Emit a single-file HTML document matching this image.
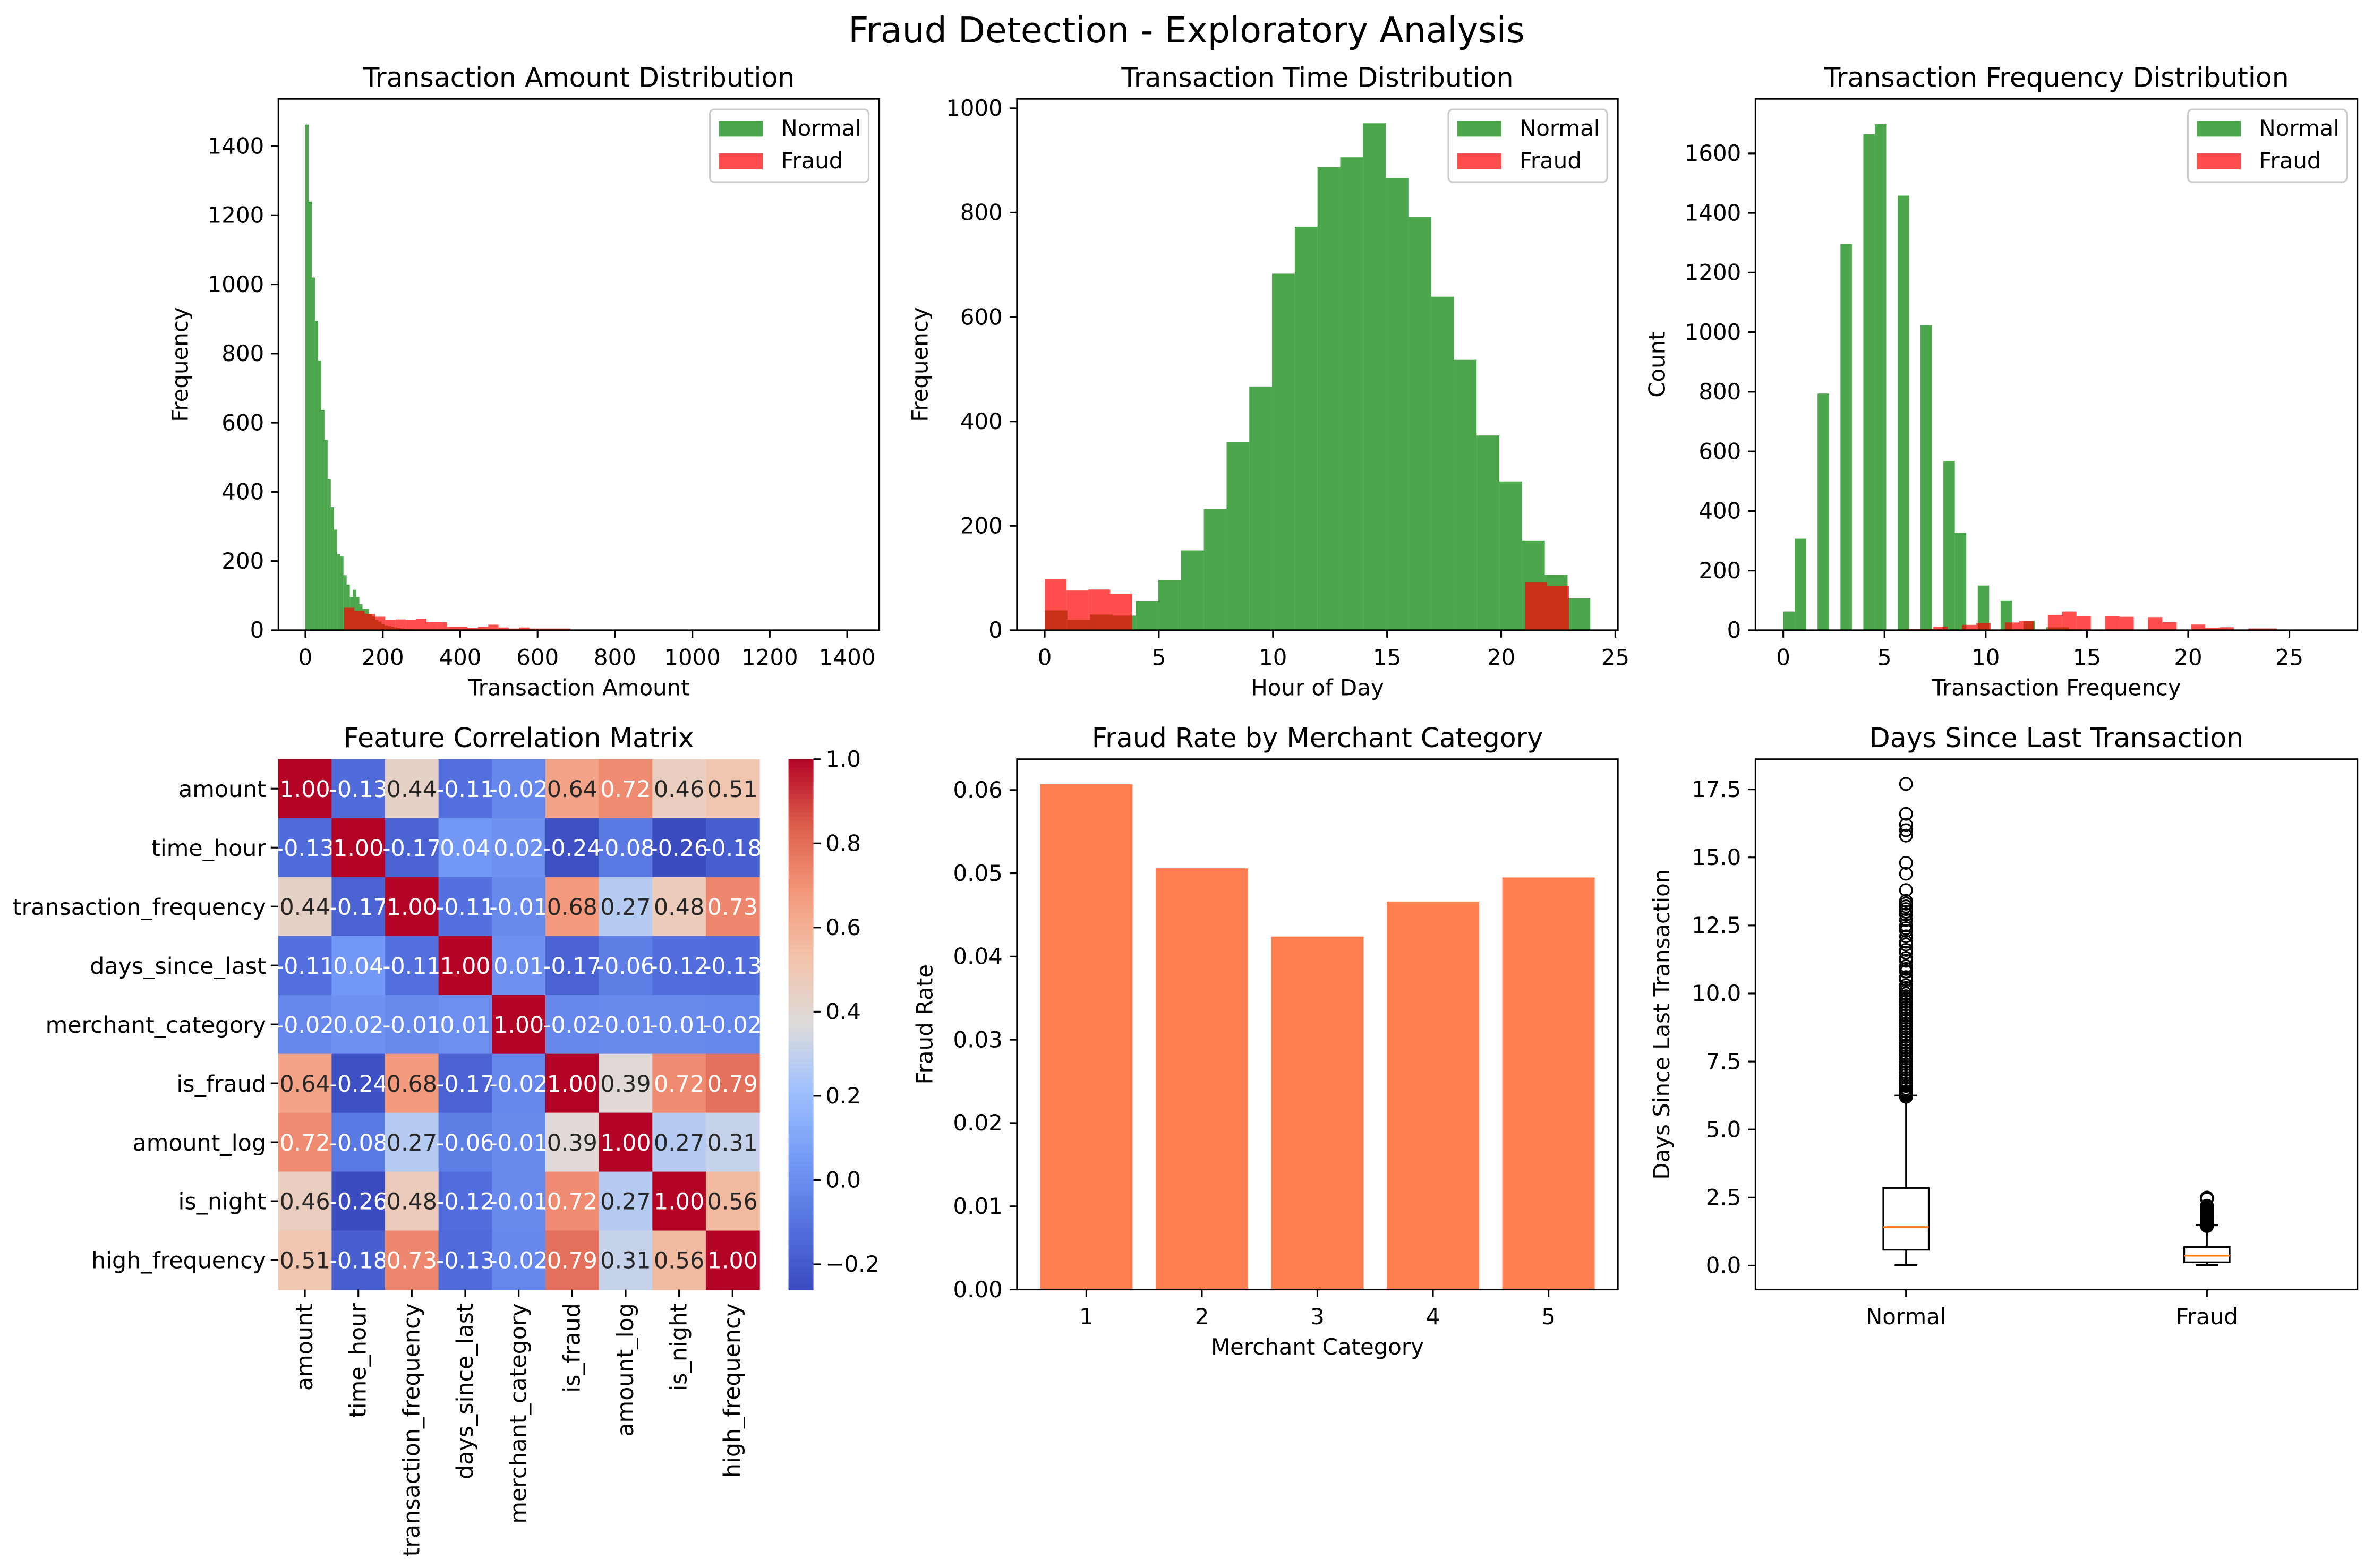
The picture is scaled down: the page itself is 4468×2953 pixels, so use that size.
<!DOCTYPE html>
<html><head><meta charset="utf-8"><title>Fraud Detection - Exploratory Analysis</title>
<style>html,body{margin:0;padding:0;background:#fff}svg{display:block}text{font-family:"DejaVu Sans","Liberation Sans",sans-serif;fill:#000}</style>
</head><body>
<svg id="fig" xmlns="http://www.w3.org/2000/svg" width="4468" height="2953" viewBox="0 0 1568 1036" preserveAspectRatio="none">
<rect width="1568" height="1036" fill="#fff"/>
<text x="784" y="28" font-size="23.3" text-anchor="middle">Fraud Detection - Exploratory Analysis</text>
</svg>
<script>
// ---- Data ----
const amountNormalCounts=[1462,1239,1020,895,780,637,550,437,356,291,220,213,159,132,96,117,96,75,62,62,47,40,30,25,18,14,12,10,8,6,5,4,3,3,2,2,2,1,1,1];
const amountFraudCounts=[65,56,47,39,29,31,29,33,23,23,10,10,6,10,16,8,5,8,5,5,5,5,2,2,1,1,0,0,1,1];
const hourNormalCounts=[38,20,30,28,56,96,153,232,361,467,683,773,887,906,971,866,792,639,518,373,285,172,106,61];
const hourFraudCounts=[98,76,78,70,0,0,0,0,0,0,0,0,0,0,0,0,0,0,0,0,0,0,92,85];
const freqNormalValues=[0,1,2,3,4,5,6,7,8,9,10,11,12,13,14];
const freqNormalCounts=[63,307,794,1296,1664,1698,1458,1023,568,327,150,100,30,10,10];
const freqFraudCounts=[4,4,12,0,18,24,0,26,31,0,51,63,48,0,48,45,0,44,27,0,19,8,10,0,6,6];
const corrLabels=["amount","time_hour","transaction_frequency","days_since_last","merchant_category","is_fraud","amount_log","is_night","high_frequency"];
const corrRow0=[1.00,-0.13,0.44,-0.11,-0.02,0.64,0.72,0.46,0.51];
const corrRow1=[-0.13,1.00,-0.17,0.04,0.02,-0.24,-0.08,-0.26,-0.18];
const corrRow2=[0.44,-0.17,1.00,-0.11,-0.01,0.68,0.27,0.48,0.73];
const corrRow3=[-0.11,0.04,-0.11,1.00,0.01,-0.17,-0.06,-0.12,-0.13];
const corrRow4=[-0.02,0.02,-0.01,0.01,1.00,-0.02,-0.01,-0.01,-0.02];
const corrRow5=[0.64,-0.24,0.68,-0.17,-0.02,1.00,0.39,0.72,0.79];
const corrRow6=[0.72,-0.08,0.27,-0.06,-0.01,0.39,1.00,0.27,0.31];
const corrRow7=[0.46,-0.26,0.48,-0.12,-0.01,0.72,0.27,1.00,0.56];
const corrRow8=[0.51,-0.18,0.73,-0.13,-0.02,0.79,0.31,0.56,1.00];
const merchantCategories=[1,2,3,4,5];
const fraudRates=[0.0607,0.0506,0.0424,0.0466,0.0495];
const boxNormalStats=[0.02,0.58,1.42,2.85,6.25]; // low whisker, Q1, median, Q3, high whisker
const boxFraudStats=[0.02,0.12,0.36,0.68,1.48];
const boxNormalOutliers=[6.2,6.25,6.3,6.35,6.4,6.5,6.6,6.7,6.8,6.9,7.0,7.1,7.2,7.3,7.4,7.5,7.6,7.7,7.8,7.9,8.0,8.1,8.2,8.3,8.4,8.5,8.6,8.7,8.8,8.9,9.0,9.1,9.2,9.3,9.4,9.5,9.6,9.7,9.8,9.9,10.0,10.1,10.2,10.3,10.5,10.6,10.8,10.9,11.0,11.2,11.3,11.5,11.6,11.8,11.9,12.1,12.3,12.4,12.5,12.7,12.9,13.0,13.1,13.2,13.3,13.4,13.8,14.4,14.8,15.8,16.0,16.2,16.6,17.7];
const boxFraudOutliers=[1.45,1.5,1.55,1.6,1.65,1.7,1.75,1.8,1.85,1.9,1.95,2.0,2.05,2.1,2.15,2.2,2.45,2.5];
const boxLabels=["Normal","Fraud"];

const FS=14.7, TFS=17.7, HFS=15;
const NS="http://www.w3.org/2000/svg";
const svg=document.getElementById('fig');
function el(tag,attrs,parent,txt){const e=document.createElementNS(NS,tag);for(const k in attrs)e.setAttribute(k,attrs[k]);if(txt!==undefined)e.textContent=txt;(parent||svg).appendChild(e);return e;}
function group(name){const g=document.createElementNS(NS,'g');


svg.appendChild(g);return g;}

function makeAxes(name,L,T,R,B,x0,x1,y0,y1){
  const g=group(name);
  return {g,L,T,R,B,sx:v=>L+(v-x0)/(x1-x0)*(R-L),sy:v=>B-(v-y0)/(y1-y0)*(B-T)};
}
function frame(ax){const f=el('rect',{x:ax.L,y:ax.T,width:ax.R-ax.L,height:ax.B-ax.T,fill:'none',stroke:'#000','stroke-width':1.1},ax.g);

}
function xticks(ax,vals,labels){vals.forEach((v,i)=>{const x=ax.sx(v);
  el('line',{x1:x,x2:x,y1:ax.B,y2:ax.B+4.9,stroke:'#000','stroke-width':1.1},ax.g);
  const t=el('text',{x:x,y:ax.B+23,'font-size':FS,'text-anchor':'middle'},ax.g,labels[i]);
  
  });}
function yticks(ax,vals,labels){vals.forEach((v,i)=>{const y=ax.sy(v);
  el('line',{x1:ax.L-4.9,x2:ax.L,y1:y,y2:y,stroke:'#000','stroke-width':1.1},ax.g);
  const t=el('text',{x:ax.L-9.5,y:y+5,'font-size':FS,'text-anchor':'end'},ax.g,labels[i]);
  
  });}
function title(ax,s,cx){const t=el('text',{x:cx!==undefined?cx:(ax.L+ax.R)/2,y:ax.T-8,'font-size':TFS,'text-anchor':'middle'},ax.g,s);

}
function xlabel(ax,s){const t=el('text',{x:(ax.L+ax.R)/2,y:ax.B+43,'font-size':FS,'text-anchor':'middle'},ax.g,s);

}
function ylabel(ax,s,off){const x=ax.L-off,y=(ax.T+ax.B)/2;const t=el('text',{x:x,y:y,'font-size':FS,'text-anchor':'middle',transform:`rotate(-90 ${x} ${y})`},ax.g,s);

}
function hist(ax,start,w,counts,color,name){counts.forEach((c,i)=>{if(c<=0)return;const x0=ax.sx(start+i*w),x1=ax.sx(start+(i+1)*w);
  const r=el('rect',{x:x0,y:ax.sy(c),width:x1-x0,height:ax.sy(0)-ax.sy(c),fill:color,'fill-opacity':0.7},ax.g);
  
  });}
function legend(ax){const g=el('g',{},ax.g);
  
  
  const x=ax.R-112,y=ax.T+7;
  el('rect',{x:x,y:y,width:105,height:48,rx:3,fill:'#fff','fill-opacity':0.8,stroke:'#cccccc','stroke-width':1.1},g);
  [['Normal','green'],['Fraud','red']].forEach((e,i)=>{
    const p=el('rect',{x:x+6,y:y+7.5+i*21.5,width:29,height:10.5,fill:e[1],'fill-opacity':0.7},g);
    
    
    const t=el('text',{x:x+47,y:y+17.5+i*21.5,'font-size':FS},g,e[0]);
    
    
  });}

// ---- Plot 1: amount ----
(function(){const ax=makeAxes('amount-histogram',184,65.3,581,416.4,-69.6,1483,0,1536.5);
 hist(ax,0,8.2,amountNormalCounts,'green','bar-amount-normal');
 hist(ax,100,26.6,amountFraudCounts,'red','bar-amount-fraud');
 frame(ax);
 xticks(ax,[0,200,400,600,800,1000,1200,1400],['0','200','400','600','800','1000','1200','1400']);
 yticks(ax,[0,200,400,600,800,1000,1200,1400],['0','200','400','600','800','1000','1200','1400']);
 title(ax,'Transaction Amount Distribution');xlabel(ax,'Transaction Amount');ylabel(ax,'Frequency',60);legend(ax);})();

// ---- Plot 2: hour ----
(function(){const ax=makeAxes('hour-histogram',672,65.3,1069,416.4,-1.214,25.11,0,1018);
 hist(ax,0,0.996,hourNormalCounts,'green','bar-hour-normal');
 hist(ax,0,0.957,hourFraudCounts,'red','bar-hour-fraud');
 frame(ax);
 xticks(ax,[0,5,10,15,20,25],['0','5','10','15','20','25']);
 yticks(ax,[0,200,400,600,800,1000],['0','200','400','600','800','1000']);
 title(ax,'Transaction Time Distribution');xlabel(ax,'Hour of Day');ylabel(ax,'Frequency',59);legend(ax);})();

// ---- Plot 3: frequency ----
(function(){const ax=makeAxes('frequency-histogram',1160,65.3,1557.7,416.4,-1.37,28.36,0,1783);
 const w=0.565;
 freqNormalValues.forEach((v,i)=>{const b=Math.floor(v/w+1e-9);const c=freqNormalCounts[i];
   const x0=ax.sx(b*w),x1=ax.sx((b+1)*w);
   const r=el('rect',{x:x0,y:ax.sy(c),width:x1-x0,height:ax.sy(0)-ax.sy(c),fill:'green','fill-opacity':0.7},ax.g);
   
   });
 hist(ax,6,0.707,freqFraudCounts,'red','bar-frequency-fraud');
 frame(ax);
 xticks(ax,[0,5,10,15,20,25],['0','5','10','15','20','25']);
 yticks(ax,[0,200,400,600,800,1000,1200,1400,1600],['0','200','400','600','800','1000','1200','1400','1600']);
 title(ax,'Transaction Frequency Distribution');xlabel(ax,'Transaction Frequency');ylabel(ax,'Count',60);legend(ax);})();

// ---- Plot 4: heatmap ----
(function(){const corr=[corrRow0,corrRow1,corrRow2,corrRow3,corrRow4,corrRow5,corrRow6,corrRow7,corrRow8];
 const L=183.8,T=501.6,R=501.7,B=852,n=corrLabels.length;const cw=(R-L)/n,ch=(B-T)/n;
 const vmin=-0.26,vmax=1.0;
 const stops=[[0,[59,76,192]],[0.125,[85,114,223]],[0.25,[118,155,246]],[0.375,[160,193,254]],[0.5,[221,220,220]],[0.625,[242,195,171]],[0.75,[244,152,122]],[0.875,[220,94,75]],[1,[180,4,38]]];
 function cmap(v){let t=Math.max(0,Math.min(1,(v-vmin)/(vmax-vmin)));for(let i=1;i<stops.length;i++){if(t<=stops[i][0]){const a=stops[i-1],b=stops[i];const f=(t-a[0])/(b[0]-a[0]);return a[1].map((c,k)=>Math.round(c+(b[1][k]-c)*f));}}return stops[stops.length-1][1];}
 function lum(c){const l=c.map(x=>{x/=255;return x<=0.03928?x/12.92:Math.pow((x+0.055)/1.055,2.4)});return 0.2126*l[0]+0.7152*l[1]+0.0722*l[2];}
 const g=group('correlation-heatmap');
 el('text',{x:(L+R)/2,y:T-8,'font-size':TFS,'text-anchor':'middle'},g,'Feature Correlation Matrix');
 corr.forEach((row,i)=>row.forEach((v,j)=>{const c=cmap(v);
   const r=el('rect',{x:L+j*cw,y:T+i*ch,width:cw+0.4,height:ch+0.4,fill:`rgb(${c})`},g);
   
   
   const t=el('text',{x:L+(j+0.5)*cw,y:T+(i+0.5)*ch+5.5,'font-size':HFS,'text-anchor':'middle',style:'fill:'+(lum(c)>0.408?'#262626':'#ffffff')},g,v.toFixed(2));
   
   }));
 corrLabels.forEach((s,i)=>{const y=T+(i+0.5)*ch;el('line',{x1:L-4.9,x2:L,y1:y,y2:y,stroke:'#000','stroke-width':1.1},g);
   const t=el('text',{x:L-8,y:y+5.5,'font-size':HFS,'text-anchor':'end'},g,s);
   
   
   const x=L+(i+0.5)*cw;el('line',{x1:x,x2:x,y1:B,y2:B+4.9,stroke:'#000','stroke-width':1.1},g);
   const t2=el('text',{x:x,y:B+9,'font-size':HFS,'text-anchor':'end','dominant-baseline':'central',transform:`rotate(-90 ${x} ${B+9})`},g,s);
   
   });
 // colorbar
 const cb=group('colorbar');const cL=521,cR=537.5;const N=120;
 for(let k=0;k<N;k++){const v=vmax-(k+0.5)/N*(vmax-vmin);const c=cmap(v);el('rect',{x:cL,y:T+k*(B-T)/N,width:cR-cL,height:(B-T)/N+0.5,fill:`rgb(${c})`},cb);}
 [-0.2,0,0.2,0.4,0.6,0.8,1.0].forEach(v=>{const y=B-(v-vmin)/(vmax-vmin)*(B-T);el('line',{x1:cR,x2:cR+4.9,y1:y,y2:y,stroke:'#000','stroke-width':1.1},cb);
   const t=el('text',{x:cR+8,y:y+5,'font-size':FS},cb,(v<0?'\u22120.2':v.toFixed(1)));
   
   });
})();

// ---- Plot 5: bar chart ----
(function(){const ax=makeAxes('fraud-rate-bar-chart',672,501.6,1069,852,0.4,5.6,0,0.0637);
 merchantCategories.forEach((c,i)=>{const x0=ax.sx(c-0.4),x1=ax.sx(c+0.4);
   const r=el('rect',{x:x0,y:ax.sy(fraudRates[i]),width:x1-x0,height:ax.sy(0)-ax.sy(fraudRates[i]),fill:'#ff7f50'},ax.g);
   
   });
 frame(ax);
 xticks(ax,merchantCategories,merchantCategories.map(String));
 yticks(ax,[0,0.01,0.02,0.03,0.04,0.05,0.06],['0.00','0.01','0.02','0.03','0.04','0.05','0.06']);
 title(ax,'Fraud Rate by Merchant Category');xlabel(ax,'Merchant Category');ylabel(ax,'Fraud Rate',56);})();

// ---- Plot 6: boxplot ----
(function(){const ax=makeAxes('days-boxplot',1160,501.6,1557.7,852,0.5,2.5,-0.88,18.61);
 const stats=[boxNormalStats,boxFraudStats],outs=[boxNormalOutliers,boxFraudOutliers];
 stats.forEach((s,i)=>{const cx=ax.sx(i+1),hw=15,cap=7.5;const g=el('g',{},ax.g);
   
   
   el('line',{x1:cx,x2:cx,y1:ax.sy(s[0]),y2:ax.sy(s[1]),stroke:'#000','stroke-width':1.1},g);
   el('line',{x1:cx,x2:cx,y1:ax.sy(s[3]),y2:ax.sy(s[4]),stroke:'#000','stroke-width':1.1},g);
   el('line',{x1:cx-cap,x2:cx+cap,y1:ax.sy(s[0]),y2:ax.sy(s[0]),stroke:'#000','stroke-width':1.1},g);
   el('line',{x1:cx-cap,x2:cx+cap,y1:ax.sy(s[4]),y2:ax.sy(s[4]),stroke:'#000','stroke-width':1.1},g);
   el('rect',{x:cx-hw,y:ax.sy(s[3]),width:2*hw,height:ax.sy(s[1])-ax.sy(s[3]),fill:'none',stroke:'#000','stroke-width':1.1},g);
   el('line',{x1:cx-hw,x2:cx+hw,y1:ax.sy(s[2]),y2:ax.sy(s[2]),stroke:'#ff7f0e','stroke-width':1.1},g);
   outs[i].forEach(v=>{const c=el('circle',{cx:cx,cy:ax.sy(v),r:4,fill:'none',stroke:'#000','stroke-width':1.1},g);
     
     });});
 frame(ax);
 xticks(ax,[1,2],boxLabels);
 yticks(ax,[0,2.5,5,7.5,10,12.5,15,17.5],['0.0','2.5','5.0','7.5','10.0','12.5','15.0','17.5']);
 title(ax,'Days Since Last Transaction');ylabel(ax,'Days Since Last Transaction',57);})();
</script>
</body></html>
